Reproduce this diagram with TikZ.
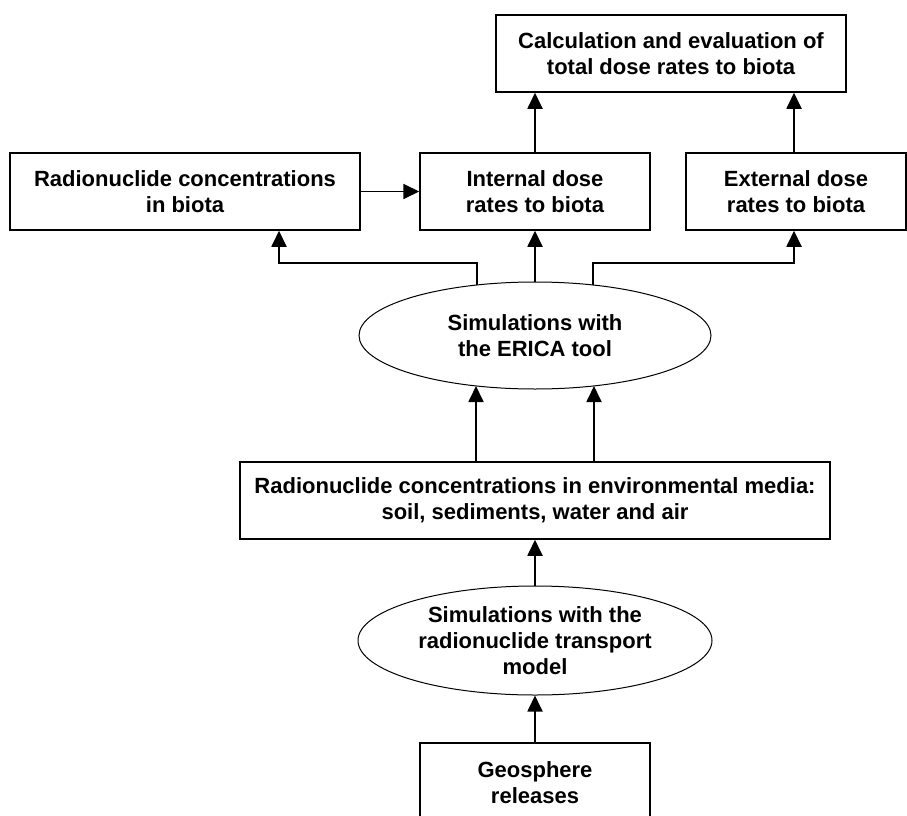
\documentclass[tikz,border=0pt]{standalone}
\usepackage{fontspec}
\setmainfont{Liberation Sans}
\usetikzlibrary{shapes.geometric,arrows.meta}
\tikzset{
  box/.style={draw, line width=1.5pt, rectangle, align=center, inner sep=0pt,
    font=\fontsize{22}{26}\selectfont\bfseries},
  oval/.style={draw, line width=1pt, ellipse, align=center, inner sep=0pt,
    font=\fontsize{22}{26}\selectfont\bfseries},
  arr/.style={line width=1.8pt, -{Triangle[width=15pt,length=16pt]}},
}
\begin{document}
\begin{tikzpicture}[x=1pt,y=-1pt]
\useasboundingbox (0,0) rectangle (907,816);
\clip (0,0) rectangle (907,816);
\node[box, minimum width=350pt, minimum height=77pt] (top) at (671,53.5) {Calculation and evaluation of\\total dose rates to biota};
\node[box, minimum width=350pt, minimum height=77pt] (left) at (185,191.5) {Radionuclide concentrations\\in biota};
\node[box, minimum width=230pt, minimum height=77pt] (internal) at (535,191.5) {Internal dose\\rates to biota};
\node[box, minimum width=220pt, minimum height=77pt] (external) at (796,191.5) {External dose\\rates to biota};
\node[oval, minimum width=352pt, minimum height=107pt] (erica) at (535,335.5) {Simulations with\\the ERICA tool};
\node[box, minimum width=590pt, minimum height=77pt] (env) at (535,500.5) {Radionuclide concentrations in environmental media:\\soil, sediments, water and air};
\node[oval, minimum width=354pt, minimum height=109pt] (transport) at (535,640.5) {Simulations with the\\radionuclide transport\\model};
\node[box, minimum width=230pt, minimum height=80pt] (geo) at (535,783) {Geosphere\\releases};
\coordinate (ex) at (794,0);
\coordinate (e1) at (477,285);
\coordinate (e2) at (593,285);
\coordinate (lk) at (279,263);
\coordinate (rk) at (794,263);
\coordinate (u1) at (476,386);
\coordinate (u2) at (594,386);
\draw[arr] (left) -- (internal);
\draw[arr] (internal.north) -- (internal.north |- top.south);
\draw[arr] (ex |- external.north) -- (ex |- top.south);
\draw[arr] (e1) |- (lk) -- (lk |- left.south);
\draw[arr] (erica.north) -- (internal.south);
\draw[arr] (e2) |- (rk) -- (rk |- external.south);
\draw[arr] (u1 |- env.north) -- (u1);
\draw[arr] (u2 |- env.north) -- (u2);
\draw[arr] (transport.north) -- (env.south);
\draw[arr] (geo.north) -- (transport.south);
\end{tikzpicture}
\end{document}
